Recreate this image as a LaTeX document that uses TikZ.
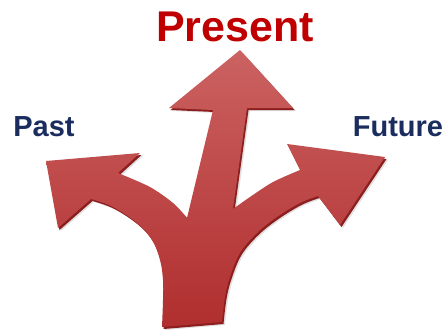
\documentclass[tikz,border=0pt]{standalone}
\usepackage{fontspec}
\setmainfont{Liberation Sans}
\definecolor{presred}{RGB}{192,0,0}
\definecolor{navy}{RGB}{27,45,95}
\definecolor{arrtop}{RGB}{204,98,98}
\definecolor{arrbot}{RGB}{176,46,46}
\definecolor{arredge}{RGB}{140,30,30}
\newcommand\forkpath{(162,327) -- plot[smooth, tension=0.6] coordinates {(162,327)(163,300)(163,280)(160,260)(152,240)(137,223)(113,207)(91,199)} -- (58,228) -- (46,161) -- (140,153) -- (118,173) -- plot[smooth] coordinates {(118,173)(150,187)(173,203)(187,218)} -- (213,110) -- (169,108) -- (240,50) -- (293,108) -- (247,108) -- (233,209) -- plot[smooth] coordinates {(233,209)(250,197)(273,182)(300,170)} -- (287,144) -- (385,157) -- (340,225) -- (318,196) -- plot[smooth, tension=0.6] coordinates {(318,196)(300,203)(277,217)(257,233)(240,253)(230,277)(225,297)(222,322)} -- cycle}
\tikzset{
  lbl/.style={font=\bfseries\fontsize{29}{29}\selectfont, text=navy, anchor=base, inner sep=0pt},
  title/.style={font=\bfseries\fontsize{43}{43}\selectfont, text=presred, anchor=base, inner sep=0pt}
}
\begin{document}
\begin{tikzpicture}[x=1pt,y=-1pt]
\useasboundingbox[fill=white] (0,0) rectangle (446,330);
% soft shadow
\begin{scope}[shift={(3,3)}]
  \fill[black, opacity=0.12] \forkpath;
\end{scope}
% 3D edge
\begin{scope}[shift={(1.5,2)}]
  \fill[arredge] \forkpath;
\end{scope}
% main arrow
\shade[top color=arrtop, bottom color=arrbot] \forkpath;
% labels
\node[title] (present) at (235,41) {Present};
\node[lbl] (past) at (44,136) {Past};
\node[lbl] (future) at (398,136) {Future};
\end{tikzpicture}
\end{document}
